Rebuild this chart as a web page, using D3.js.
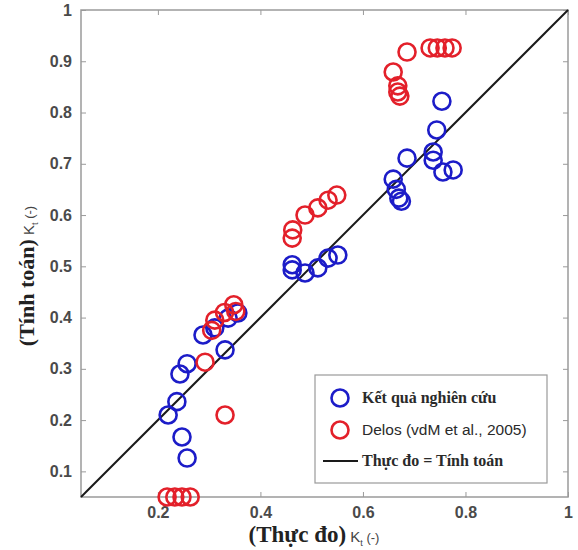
<!DOCTYPE html>
<html>
<head>
<meta charset="utf-8">
<script src="https://cdn.jsdelivr.net/npm/d3@7"></script>
<style>
  body { margin: 0; background: #fff; }
  svg { display: block; }
</style>
</head>
<body>
<svg id="chart" width="578" height="550"></svg>
<script>
// ---- data ----
const blueX = [0.220, 0.237, 0.243, 0.257, 0.247, 0.257, 0.288, 0.311, 0.331, 0.337, 0.356,
               0.462, 0.462, 0.487, 0.512, 0.532, 0.551,
               0.659, 0.665, 0.670, 0.675, 0.686, 0.737, 0.744, 0.737, 0.754, 0.756, 0.776];
const blueY = [0.210, 0.236, 0.290, 0.310, 0.167, 0.126, 0.366, 0.380, 0.337, 0.399, 0.409,
               0.503, 0.493, 0.487, 0.497, 0.516, 0.522,
               0.670, 0.650, 0.633, 0.627, 0.711, 0.723, 0.766, 0.707, 0.822, 0.684, 0.688];
const redX = [0.218, 0.233, 0.247, 0.263, 0.292, 0.331, 0.305, 0.311, 0.330, 0.348, 0.352,
              0.462, 0.463, 0.487, 0.512, 0.532, 0.549,
              0.659, 0.668, 0.668, 0.672, 0.686, 0.731, 0.745, 0.760, 0.774];
const redY = [0.050, 0.050, 0.050, 0.050, 0.313, 0.210, 0.375, 0.395, 0.410, 0.425, 0.412,
              0.555, 0.571, 0.600, 0.614, 0.629, 0.639,
              0.879, 0.852, 0.840, 0.832, 0.918, 0.926, 0.926, 0.926, 0.926];
const xTicks = [0.2, 0.4, 0.6, 0.8, 1];
const yTicks = [0.1, 0.2, 0.3, 0.4, 0.5, 0.6, 0.7, 0.8, 0.9, 1];
const legendLabels = ["Kết quả nghiên cứu", "Delos (vdM et al., 2005)", "Thực đo = Tính toán"];
const domain = [0.05, 1];

// ---- layout ----
const svg = d3.select("#chart");
const L = 81, T = 10, R = 568, B = 497;
const x = d3.scaleLinear().domain(domain).range([L, R]);
const y = d3.scaleLinear().domain(domain).range([B, T]);

const axisColor = "#9a9a9a";
const labelColor = "#4a4a4a";
const tickFont = "Liberation Sans, Arial, sans-serif";
const serif = "Liberation Serif, Times New Roman, serif";

// frame
svg.append("rect").attr("x", L).attr("y", T).attr("width", R - L).attr("height", B - T)
  .attr("fill", "none").attr("stroke", axisColor).attr("stroke-width", 1.5);

// axes
const fmt = d => d === 1 ? "1" : d3.format(".1f")(d);
const styleAxis = g => {
  g.select(".domain").remove();
  g.selectAll(".tick line").attr("stroke", axisColor).attr("stroke-width", 1);
  g.selectAll(".tick text").attr("fill", labelColor)
    .style("font-family", tickFont).style("font-size", "16px").style("font-weight", "bold");
};
svg.append("g").attr("transform", `translate(0,${B})`)
  .call(d3.axisBottom(x).tickValues(xTicks).tickFormat(fmt).tickSizeInner(-5).tickPadding(10))
  .call(styleAxis);
svg.append("g").attr("transform", `translate(0,${T})`)
  .call(d3.axisTop(x).tickValues(xTicks).tickFormat("").tickSizeInner(-5))
  .call(styleAxis);
svg.append("g").attr("transform", `translate(${L},0)`)
  .call(d3.axisLeft(y).tickValues(yTicks).tickFormat(fmt).tickSizeInner(-5).tickPadding(9))
  .call(styleAxis);
svg.append("g").attr("transform", `translate(${R},0)`)
  .call(d3.axisRight(y).tickValues(yTicks).tickFormat("").tickSizeInner(-5))
  .call(styleAxis);

// diagonal line
svg.append("line")
  .attr("x1", x(domain[0])).attr("y1", y(domain[0]))
  .attr("x2", x(domain[1])).attr("y2", y(domain[1]))
  .attr("stroke", "#1a1a1a").attr("stroke-width", 2);

const blue = "#1c1cc8", red = "#e3202a";
const rad = 8.5, sw = 2.6;
const blueData = blueX.map((v, i) => [v, blueY[i]]);
const redData = redX.map((v, i) => [v, redY[i]]);
svg.append("g").selectAll("circle").data(blueData).join("circle")
  .attr("cx", d => x(d[0])).attr("cy", d => y(d[1])).attr("r", rad)
  .attr("fill", "none").attr("stroke", blue).attr("stroke-width", sw);
svg.append("g").selectAll("circle").data(redData).join("circle")
  .attr("cx", d => x(d[0])).attr("cy", d => y(d[1])).attr("r", rad)
  .attr("fill", "none").attr("stroke", red).attr("stroke-width", sw);

// legend
const lg = svg.append("g");
lg.append("rect").attr("x", 315).attr("y", 375).attr("width", 232).attr("height", 108)
  .attr("fill", "#fff").attr("stroke", axisColor).attr("stroke-width", 1.2);
lg.append("circle").attr("cx", 340).attr("cy", 398).attr("r", rad)
  .attr("fill", "none").attr("stroke", blue).attr("stroke-width", sw);
lg.append("circle").attr("cx", 340).attr("cy", 430).attr("r", rad)
  .attr("fill", "none").attr("stroke", red).attr("stroke-width", sw);
lg.append("line").attr("x1", 323).attr("x2", 358).attr("y1", 461).attr("y2", 461)
  .attr("stroke", "#1a1a1a").attr("stroke-width", 2);
lg.append("text").attr("x", 362).attr("y", 403).text(legendLabels[0])
  .style("font-family", serif).style("font-size", "16px")
  .style("font-weight", "bold").attr("fill", "#2a2a2a");
lg.append("text").attr("x", 362).attr("y", 435).text(legendLabels[1])
  .style("font-family", tickFont).style("font-size", "15.5px").attr("fill", "#2a2a2a");
lg.append("text").attr("x", 362).attr("y", 466).text(legendLabels[2])
  .style("font-family", serif).style("font-size", "16px")
  .style("font-weight", "bold").attr("fill", "#2a2a2a");

// axis titles
const xt = svg.append("text").attr("x", 314).attr("y", 542).attr("text-anchor", "middle").attr("fill", "#222");
xt.append("tspan").text("(Thực đo)").style("font-family", serif)
  .style("font-size", "23px").style("font-weight", "bold");
xt.append("tspan").text(" K").style("font-family", tickFont).style("font-size", "15px").attr("fill", "#444");
xt.append("tspan").text("t").attr("dy", 4).style("font-family", tickFont).style("font-size", "9px").attr("fill", "#444");
xt.append("tspan").text(" (-)").attr("dy", -4).style("font-family", tickFont).style("font-size", "13px").attr("fill", "#444");

const yt = svg.append("text").attr("transform", "translate(34,276) rotate(-90)")
  .attr("text-anchor", "middle").attr("fill", "#222");
yt.append("tspan").text("(Tính toán)").style("font-family", serif)
  .style("font-size", "22px").style("font-weight", "bold");
yt.append("tspan").text(" K").style("font-family", tickFont).style("font-size", "15px").attr("fill", "#444");
yt.append("tspan").text("t").attr("dy", 4).style("font-family", tickFont).style("font-size", "9px").attr("fill", "#444");
yt.append("tspan").text(" (-)").attr("dy", -4).style("font-family", tickFont).style("font-size", "13px").attr("fill", "#444");
</script>
</body>
</html>
